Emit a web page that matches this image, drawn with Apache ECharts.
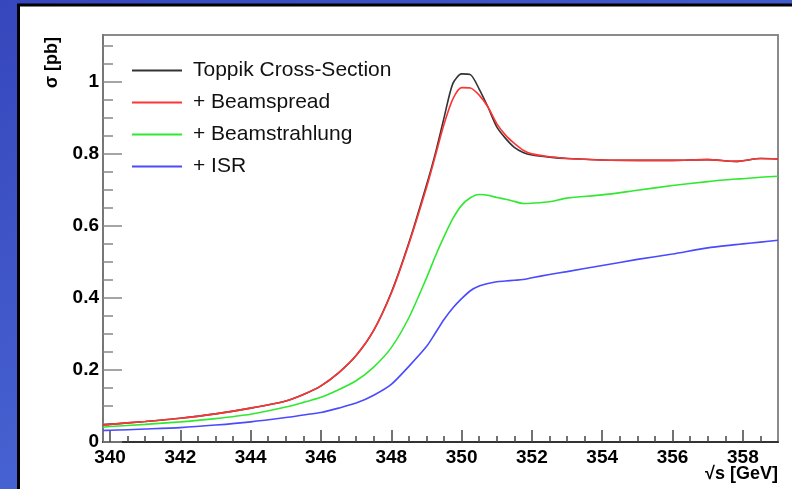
<!DOCTYPE html>
<html>
<head>
<meta charset="utf-8">
<script src="https://cdn.jsdelivr.net/npm/echarts@6/dist/echarts.min.js"></script>
<style>
html,body{margin:0;padding:0;background:#3b4ec4;}
#chart{width:792px;height:489px;}
</style>
</head>
<body>
<div id="chart"></div>
<script>
// sqrt(s) in GeV
const energies = [339.8, 340, 341, 342, 343, 344, 345, 345.5, 346, 346.5, 347, 347.5, 348, 348.5, 349, 349.25, 349.5, 349.75, 350, 350.25, 350.5, 350.75, 351, 351.25, 351.5, 351.75, 352, 352.5, 353, 354, 355, 356, 357, 357.8, 358, 358.5, 359];
// sigma in pb
const toppik = [0.047, 0.049, 0.057, 0.066, 0.078, 0.094, 0.114, 0.132, 0.156, 0.192, 0.240, 0.310, 0.415, 0.553, 0.713, 0.800, 0.900, 0.995, 1.022, 1.020, 0.980, 0.930, 0.875, 0.843, 0.818, 0.804, 0.797, 0.791, 0.787, 0.783, 0.782, 0.782, 0.784, 0.779, 0.781, 0.787, 0.786];
const beamspread = [0.047, 0.049, 0.057, 0.066, 0.078, 0.094, 0.114, 0.132, 0.156, 0.192, 0.240, 0.310, 0.413, 0.550, 0.706, 0.793, 0.882, 0.952, 0.984, 0.983, 0.963, 0.930, 0.884, 0.852, 0.829, 0.810, 0.800, 0.792, 0.787, 0.783, 0.782, 0.782, 0.784, 0.779, 0.781, 0.787, 0.786];
const beamstrahlung = [0.041, 0.043, 0.049, 0.056, 0.065, 0.077, 0.097, 0.110, 0.124, 0.145, 0.170, 0.208, 0.262, 0.345, 0.455, 0.515, 0.570, 0.620, 0.657, 0.678, 0.687, 0.685, 0.679, 0.674, 0.668, 0.662, 0.663, 0.667, 0.677, 0.686, 0.699, 0.712, 0.723, 0.730, 0.731, 0.735, 0.738];
const isr = [0.032, 0.0325, 0.036, 0.040, 0.047, 0.056, 0.068, 0.075, 0.082, 0.094, 0.108, 0.130, 0.160, 0.210, 0.265, 0.302, 0.340, 0.372, 0.398, 0.420, 0.433, 0.440, 0.445, 0.447, 0.449, 0.451, 0.456, 0.465, 0.473, 0.490, 0.507, 0.522, 0.539, 0.548, 0.550, 0.555, 0.560];

const seriesNames = ['Toppik Cross-Section', '+ Beamspread', '+ Beamstrahlung', '+ ISR'];
const xTickLabels = [340, 342, 344, 346, 348, 350, 352, 354, 356, 358];
const xMinorTicks = [340, 340.5, 341, 341.5, 342, 342.5, 343, 343.5, 344, 344.5, 345, 345.5, 346, 346.5, 347, 347.5, 348, 348.5, 349, 349.5, 350, 350.5, 351, 351.5, 352, 352.5, 353, 353.5, 354, 354.5, 355, 355.5, 356, 356.5, 357, 357.5, 358, 358.5];
const yTickLabels = [0, 0.2, 0.4, 0.6, 0.8, 1];
const yMinorTicks = [0.05, 0.1, 0.15, 0.2, 0.25, 0.3, 0.35, 0.4, 0.45, 0.5, 0.55, 0.6, 0.65, 0.7, 0.75, 0.8, 0.85, 0.9, 0.95, 1, 1.05, 1.1];
const xTitle = '√s [GeV]';
const yTitle = 'σ [pb]';

const colors = ['#333333', '#ff3535', '#30e830', '#4a4aff'];
const datasets = [toppik, beamspread, beamstrahlung, isr];

const chart = echarts.init(document.getElementById('chart'), null, {renderer: 'canvas'});
const FONT = '"Liberation Sans", Arial, Helvetica, sans-serif';

const option = {
  animation: false,
  backgroundColor: 'transparent',
  graphic: [
    {type: 'rect', z: -20, silent: true, shape: {x: 0, y: 0, width: 792, height: 489},
     style: {fill: new echarts.graphic.LinearGradient(0, 0, 0.3, 1, [
       {offset: 0, color: '#3646bc'}, {offset: 1, color: '#4a68d6'}])}},
    {type: 'rect', z: -10, silent: true, shape: {x: 18.5, y: 5, width: 800, height: 500},
     style: {fill: '#ffffff', stroke: '#000000', lineWidth: 3}},
    {type: 'text', z: 50, x: 52, y: 37, rotation: Math.PI / 2,
     style: {text: yTitle, fill: '#000', font: 'bold 18px ' + FONT, textAlign: 'right', textVerticalAlign: 'middle'}},
    {type: 'text', z: 50, x: 778, y: 474,
     style: {text: xTitle, fill: '#000', font: 'bold 18px ' + FONT, textAlign: 'right', textVerticalAlign: 'middle'}}
  ],
  grid: {left: 103, top: 35, right: 14, bottom: 47, show: true, borderColor: '#8a8a8a', borderWidth: 2, backgroundColor: 'transparent'},
  legend: {
    orient: 'vertical', left: 127, top: 55, itemWidth: 50, itemHeight: 2, itemGap: 11,
    icon: 'rect',
    data: seriesNames,
    textStyle: {fontFamily: FONT, fontSize: 21, color: '#111', lineHeight: 21, padding: [0, 0, 0, 6]}
  },
  xAxis: [
    {type: 'value', min: 339.8, max: 359,
     axisLine: {show: true, lineStyle: {color: '#333', width: 2}},
     axisTick: {show: true, inside: true, length: 12, customValues: xTickLabels, lineStyle: {color: '#444', width: 1.5}},
     axisLabel: {show: true, customValues: xTickLabels, margin: 6, fontFamily: FONT, fontWeight: 'bold', fontSize: 19, color: '#000',
       formatter: v => String(Math.round(v))},
     splitLine: {show: false}},
    {type: 'value', min: 339.8, max: 359, position: 'bottom',
     axisLine: {show: false},
     axisTick: {show: true, inside: true, length: 6, customValues: xMinorTicks, lineStyle: {color: '#444', width: 1.5}},
     axisLabel: {show: false}, splitLine: {show: false}}
  ],
  yAxis: [
    {type: 'value', min: 0, max: 1.13,
     axisLine: {show: true, lineStyle: {color: '#777', width: 2}},
     axisTick: {show: true, inside: true, length: 19, customValues: yTickLabels, lineStyle: {color: '#888', width: 1.5}},
     axisLabel: {show: true, customValues: yTickLabels, margin: 4, fontFamily: FONT, fontWeight: 'bold', fontSize: 19, color: '#000',
       formatter: v => (v === 0 ? '0' : v === 1 ? '1' : String(v))},
     splitLine: {show: false}},
    {type: 'value', min: 0, max: 1.13, position: 'left',
     axisLine: {show: false},
     axisTick: {show: true, inside: true, length: 10, customValues: yMinorTicks, lineStyle: {color: '#888', width: 1.5}},
     axisLabel: {show: false}, splitLine: {show: false}}
  ],
  series: seriesNames.map((name, i) => ({
    name: name, type: 'line', xAxisIndex: 0, yAxisIndex: 0,
    data: energies.map((e, j) => [e, datasets[i][j]]),
    symbol: 'none', smooth: 0.25,
    lineStyle: {color: colors[i], width: 1.6},
    itemStyle: {color: colors[i]},
    z: 3 + i
  }))
};
chart.setOption(option);
</script>
</body>
</html>
